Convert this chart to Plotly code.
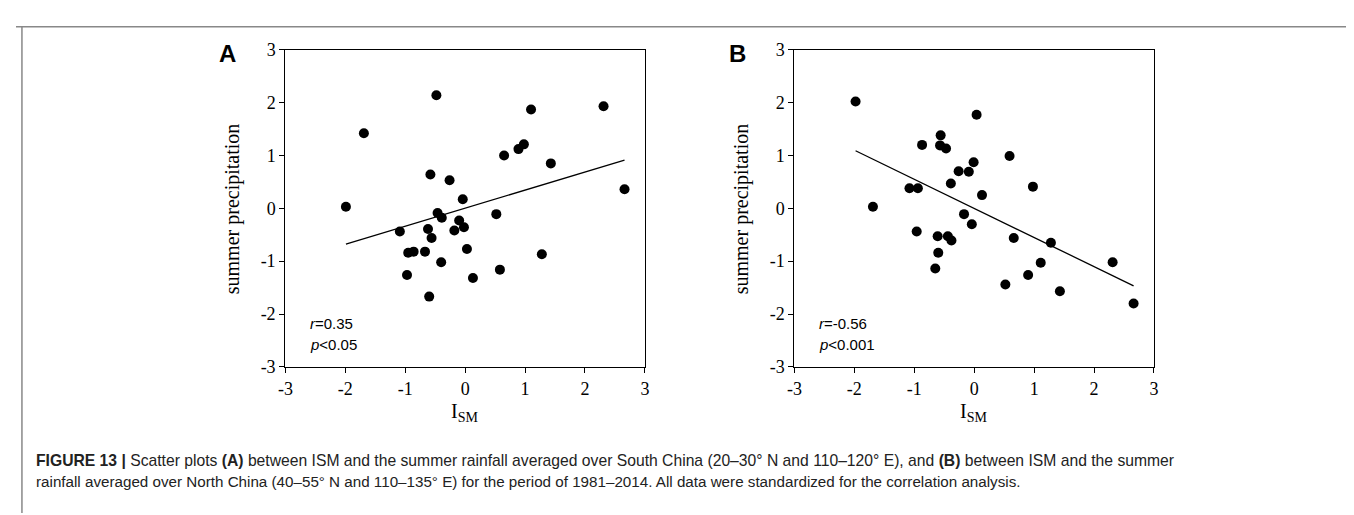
import numpy as np
import plotly.graph_objects as go

# panel A: ISM index vs South China summer rainfall (standardized)
ism_a = [-1.99, -1.69, -0.48, -0.58, -0.26, -0.04, 0.65, 0.89, 0.98, 1.10, 1.43, 2.31, 2.66,
         -0.46, -0.39, -1.09, -0.62, -0.56, -0.10, -0.18, -0.02, 0.03, 0.52, -0.95, -0.86,
         -0.67, -0.40, -0.97, 0.13, 0.58, 1.28, -0.60]
rain_a = [0.03, 1.42, 2.14, 0.64, 0.53, 0.17, 1.00, 1.12, 1.21, 1.87, 0.85, 1.93, 0.36,
          -0.09, -0.18, -0.44, -0.39, -0.56, -0.23, -0.42, -0.36, -0.77, -0.11, -0.84, -0.82,
          -0.82, -1.02, -1.26, -1.32, -1.16, -0.87, -1.67]

# panel B: ISM index vs North China summer rainfall (standardized)
ism_b = [-1.98, 0.04, -0.56, -0.87, -0.57, -0.47, 0.59, -0.01, -0.26, -0.09, -0.39, -1.08,
         -0.94, 0.98, 0.13, -1.69, -0.17, -0.04, -0.96, -0.61, -0.44, -0.38, 0.66, 1.28,
         -0.60, -0.65, 1.11, 2.31, 0.90, 0.52, 1.43, 2.66]
rain_b = [2.02, 1.77, 1.38, 1.20, 1.19, 1.13, 0.99, 0.87, 0.70, 0.69, 0.47, 0.38,
          0.38, 0.41, 0.25, 0.03, -0.11, -0.30, -0.44, -0.53, -0.53, -0.61, -0.56, -0.65,
          -0.84, -1.14, -1.03, -1.02, -1.26, -1.44, -1.57, -1.80]

stats_a = ["<i>r</i>=0.35", "<i>p</i><0.05"]
stats_b = ["<i>r</i>=-0.56", "<i>p</i><0.001"]
ticks = [-3, -2, -1, 0, 1, 2, 3]
tick_labels = ["-3", "-2", "-1", "0", "1", "2", "3"]

caption_1 = ("<b>FIGURE 13 |</b> Scatter plots <b>(A)</b> between ISM and the summer rainfall averaged "
             "over South China (20–30° N and 110–120° E), and <b>(B)</b> between ISM and the summer")
caption_2 = ("rainfall averaged over North China (40–55° N and 110–135° E) for the period of "
             "1981–2014. All data were standardized for the correlation analysis.")

W, H = 1354, 515
SERIF = "Liberation Serif, Times New Roman, serif"
SANS = "Liberation Sans, Arial, sans-serif"


def px(x):
    return x / W


def py(y):
    return 1 - y / H


fig = go.Figure()

panels = [
    ("x", "y", ism_a, rain_a, stats_a),
    ("x2", "y2", ism_b, rain_b, stats_b),
]

for xa, ya, xs, ys, stats in panels:
    xs_np = np.asarray(xs)
    ys_np = np.asarray(ys)
    fig.add_trace(go.Scatter(
        x=xs_np, y=ys_np, mode="markers", xaxis=xa, yaxis=ya,
        marker=dict(color="black", size=10), showlegend=False,
    ))
    # least squares fit drawn over the range of the data
    slope, icpt = np.polyfit(xs_np, ys_np, 1)
    line_x = np.array([xs_np.min(), xs_np.max()])
    fig.add_trace(go.Scatter(
        x=line_x, y=slope * line_x + icpt, mode="lines", xaxis=xa, yaxis=ya,
        line=dict(color="black", width=1.3), showlegend=False,
    ))
    for i, s in enumerate(stats):
        fig.add_annotation(
            x=-2.62, y=-2.18 - 0.4 * i, xref=xa, yref=ya, text=s, showarrow=False,
            xanchor="left", yanchor="middle",
            font=dict(family=SANS, size=15, color="black"),
        )

axis_style = dict(
    range=[-3, 3], tickvals=ticks, ticktext=tick_labels, ticks="outside", ticklen=5,
    tickwidth=1.2, tickcolor="black", showline=True, linecolor="black", linewidth=1.3,
    mirror=True, showgrid=False, zeroline=False,
    tickfont=dict(family=SERIF, size=18, color="black"),
)

fig.update_layout(
    width=W, height=H,
    margin=dict(l=0, r=0, t=0, b=0),
    paper_bgcolor="white", plot_bgcolor="white",
    xaxis=dict(domain=[px(272), px(635)], anchor="y", **axis_style),
    yaxis=dict(domain=[py(363), py(33)], anchor="x", **axis_style),
    xaxis2=dict(domain=[px(786), px(1149)], anchor="y2", **axis_style),
    yaxis2=dict(domain=[py(363), py(33)], anchor="x2", **axis_style),
)

centered = dict(xref="paper", yref="paper", showarrow=False, xanchor="center", yanchor="middle")

# panel letters and axis titles
for x_left, label in [(272, "A"), (786, "B")]:
    fig.add_annotation(x=px(x_left - 58), y=py(37), text=f"<b>{label}</b>",
                       font=dict(family=SANS, size=24, color="black"), **centered)
    fig.add_annotation(x=px(x_left - 54), y=py(198), text="summer precipitation", textangle=-90,
                       font=dict(family=SERIF, size=20, color="black"), **centered)
    fig.add_annotation(x=px(x_left + 181), y=py(410), text="I<sub>SM</sub>",
                       font=dict(family=SERIF, size=20, color="black"), **centered)

# caption
for i, (cap, size) in enumerate([(caption_1, 15.7), (caption_2, 15.2)]):
    fig.add_annotation(x=px(18), y=py(460 + 22 * i), xref="paper", yref="paper", text=cap,
                       showarrow=False, xanchor="left", yanchor="middle", align="left",
                       font=dict(family=SANS, size=size, color="#222"))

# frame around the figure
frame = dict(type="line", xref="paper", yref="paper", line=dict(color="#888", width=1.5))
fig.add_shape(x0=0, x1=1, y0=py(9), y1=py(9), **frame)
fig.add_shape(x0=px(6), x1=px(6), y0=py(9), y1=0, **frame)
fig.add_shape(x0=px(1351), x1=px(1351), y0=py(9), y1=0, **frame)

fig.write_html("out.html")
